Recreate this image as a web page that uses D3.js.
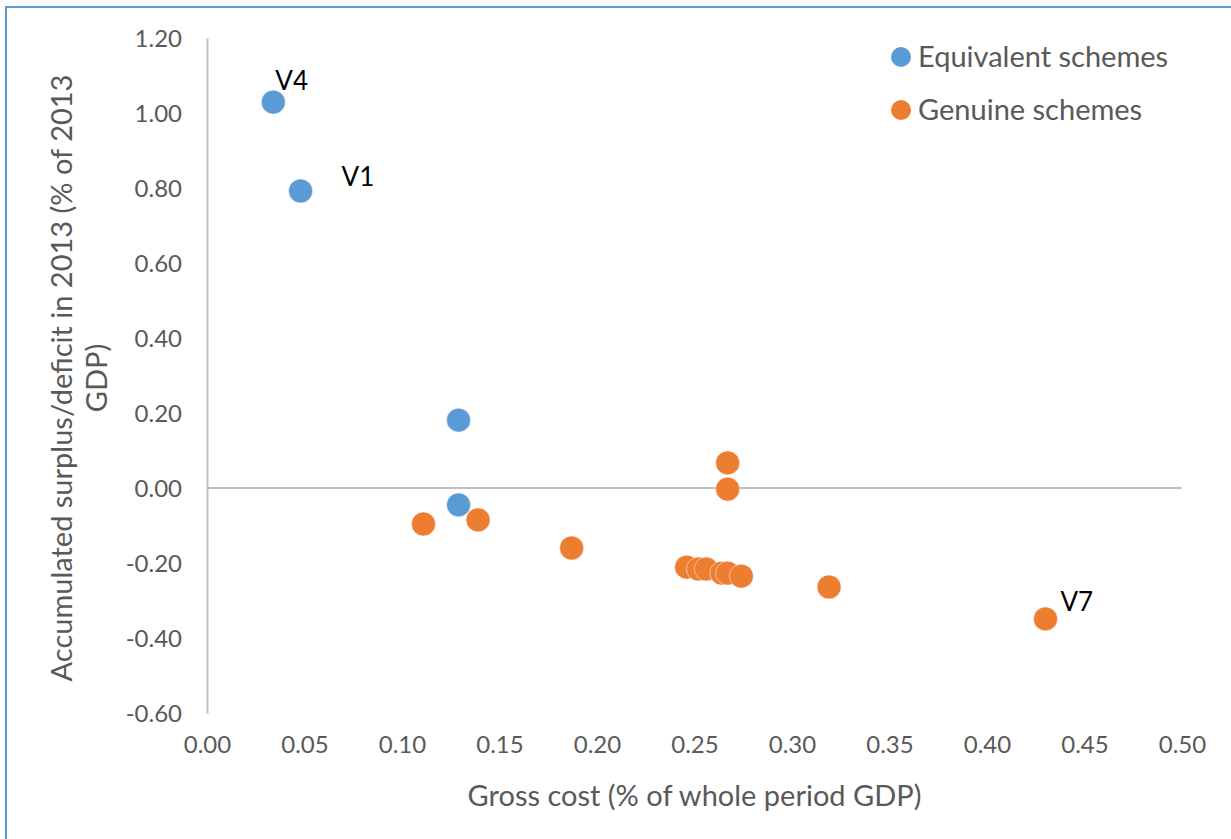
<!DOCTYPE html>
<html lang="en">
<head>
    <meta charset="utf-8">
    <script src="https://cdn.jsdelivr.net/npm/d3@7"></script>
    <style>
        body { margin: 0; background: #fff; }
        text { font-family: Lato, "Open Sans", sans-serif; }
        .tick text { fill: #595959; }
    </style>
</head>
<body>
<script>
    // equivalent schemes (blue)
    const equivX = [0.034, 0.048, 0.129, 0.129];
    const equivY = [1.029, 0.792, 0.181, -0.045];
    const equivLabels = ['V4', 'V1', '', ''];

    // genuine schemes (orange)
    const genuineX = [0.111, 0.139, 0.187, 0.267, 0.267, 0.246, 0.252, 0.256, 0.264, 0.267, 0.274, 0.319, 0.430];
    const genuineY = [-0.096, -0.085, -0.160, 0.067, -0.003, -0.211, -0.216, -0.216, -0.227, -0.227, -0.235, -0.264, -0.349];
    const genuineLabels = ['', '', '', '', '', '', '', '', '', '', '', '', 'V7'];

    const xTicks = [0, 0.05, 0.10, 0.15, 0.20, 0.25, 0.30, 0.35, 0.40, 0.45, 0.50];
    const yTicks = [-0.6, -0.4, -0.2, 0, 0.2, 0.4, 0.6, 0.8, 1.0, 1.2];
    const seriesNames = ['Equivalent schemes', 'Genuine schemes'];
    const colors = ['#5b9bd5', '#ed7d31'];

    const W = 1231, H = 839;
    const svg = d3.select('body').append('svg').attr('width', W).attr('height', H);

    // outer frame (only top/left edges visible)
    svg.append('rect').attr('x', 6).attr('y', 7).attr('width', 1240).attr('height', 850)
        .attr('fill', 'none').attr('stroke', '#5b9bd5').attr('stroke-width', 2);

    const x = d3.scaleLinear().domain([0, 0.5]).range([207, 1182]);
    const y = d3.scaleLinear().domain([-0.6, 1.2]).range([713, 38]);
    const fmt = function (d) { return d3.format('.2f')(d).replace('\u2212', '-'); };

    // y axis
    const yAxis = svg.append('g').attr('transform', 'translate(207,0)')
        .call(d3.axisLeft(y).tickValues(yTicks).tickFormat(fmt).tickSize(0).tickPadding(25));
    yAxis.select('.domain').attr('stroke', '#bfbfbf').attr('stroke-width', 2);
    yAxis.selectAll('.tick text').attr('font-size', 24).attr('dy', '0.35em');

    // x axis: line at zero, labels at bottom
    svg.append('line').attr('x1', x(0)).attr('x2', x(0.5)).attr('y1', y(0)).attr('y2', y(0))
        .attr('stroke', '#bfbfbf').attr('stroke-width', 2);
    const xAxis = svg.append('g').attr('transform', 'translate(0,' + y(-0.6) + ')')
        .call(d3.axisBottom(x).tickValues(xTicks).tickFormat(fmt).tickSize(0).tickPadding(23));
    xAxis.select('.domain').remove();
    xAxis.selectAll('.tick text').attr('font-size', 24);

    // axis titles
    svg.append('text').attr('x', x(0.25)).attr('y', 806).attr('text-anchor', 'middle')
        .attr('font-size', 29).attr('fill', '#595959').text('Gross cost (% of whole period GDP)');
    const yt = svg.append('text').attr('transform', 'translate(62,378) rotate(-90)')
        .attr('text-anchor', 'middle').attr('font-size', 29).attr('fill', '#595959');
    yt.append('tspan').attr('x', 0).attr('y', 10).text('Accumulated surplus/deficit in 2013 (% of 2013');
    yt.append('tspan').attr('x', 0).attr('y', 45).text('GDP)');

    // points
    const series = [
        equivX.map((v, i) => ({x: v, y: equivY[i], label: equivLabels[i]})),
        genuineX.map((v, i) => ({x: v, y: genuineY[i], label: genuineLabels[i]}))
    ];
    const labelOffsets = {V4: [2, -12], V1: [41, -5], V7: [15, -8]};
    series.forEach(function (pts, si) {
        const g = svg.append('g');
        g.selectAll('circle').data(pts).enter().append('circle')
            .attr('cx', function (d) { return x(d.x); })
            .attr('cy', function (d) { return y(d.y); })
            .attr('r', 12)
            .attr('fill', colors[si])
            .attr('stroke', '#fff').attr('stroke-width', 0.5);
        g.selectAll('text').data(pts.filter(function (d) { return d.label; })).enter().append('text')
            .attr('x', function (d) { return x(d.x) + labelOffsets[d.label][0]; })
            .attr('y', function (d) { return y(d.y) + labelOffsets[d.label][1]; })
            .attr('font-size', 26).attr('fill', '#000')
            .text(function (d) { return d.label; });
    });

    // legend
    const legend = svg.append('g');
    seriesNames.forEach(function (name, i) {
        legend.append('circle').attr('cx', 901).attr('cy', 57 + i * 53).attr('r', 10).attr('fill', colors[i]);
        legend.append('text').attr('x', 918).attr('y', 57 + i * 53).attr('dy', '0.35em')
            .attr('font-size', 29).attr('fill', '#595959').text(name);
    });
</script>
</body>
</html>
